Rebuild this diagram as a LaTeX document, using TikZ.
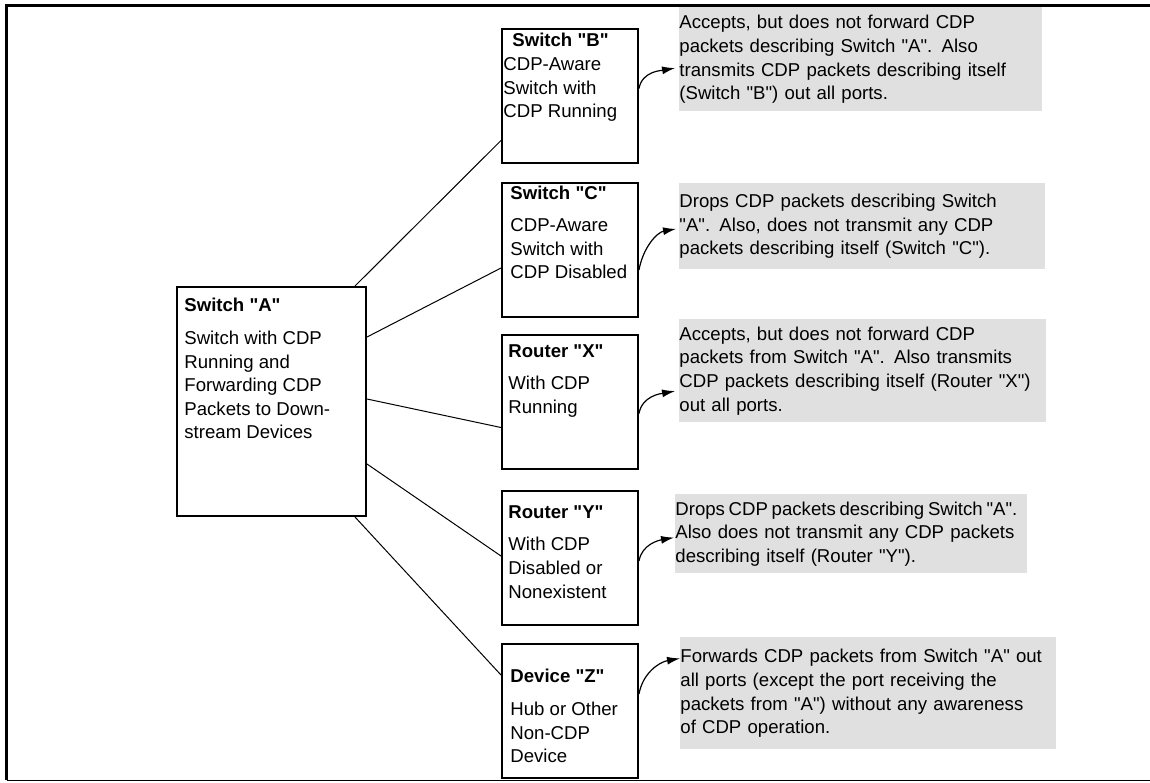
\documentclass[tikz,border=0pt]{standalone}
\usepackage{fontspec}
\setmainfont{Liberation Sans}[Ligatures=TeXOff]
\usetikzlibrary{arrows.meta,positioning}
\definecolor{notegray}{RGB}{224,224,224}

\begin{document}
\begin{tikzpicture}[x=0.5pt, y=-0.5pt,
    every node/.style={font=\fontsize{9.3pt}{11.8pt}\selectfont, inner sep=0pt},
    devbox/.style={draw, line width=1pt, minimum width=68pt, minimum height=67pt, anchor=north west},
    devtext/.style={align=left, anchor=north west},
    note/.style={fill=notegray, align=left, anchor=north west},
    link/.style={line width=0.5pt},
    feed/.style={line width=0.6pt, -{Latex[length=6.5pt,width=4pt]}}]
  \useasboundingbox (0,0) rectangle (1150,782);
  % Frame
  \draw[line width=1.3pt] (1150,5.5) -- (6.5,5.5) -- (6.5,780);
  \draw[line width=0.5pt] (6.5,780) -- (1150,780);

  % Switch A
  \node[devbox, minimum width=94.5pt, minimum height=114.5pt] (swa) at (176,286) {};
  \node[devtext] (swatext) at (184,298) {\textbf{Switch "A"}\\[4.5pt]Switch with CDP\\Running and\\Forwarding CDP\\Packets to Down-\\stream Devices};

  % Downstream devices
  \node[devbox] (swb) at (501,28) {};
  \node[devtext] (swbtext) at (503,33) {\hspace*{4.5pt}\textbf{Switch "B"}\\CDP-Aware\\Switch with\\CDP Running};
  \node[devbox] (swc) at (501,182) {};
  \node[devtext] (swctext) at (510,186) {\textbf{Switch "C"}\\[4pt]CDP-Aware\\Switch with\\CDP Disabled};
  \node[devbox] (rtx) at (501,334) {};
  \node[devtext] (rtxtext) at (508,344) {\textbf{Router "X"}\\[4.5pt]With CDP\\Running};
  \node[devbox] (rty) at (501,490) {};
  \node[devtext] (rtytext) at (508,505) {\textbf{Router "Y"}\\[4.5pt]With CDP\\Disabled or\\Nonexistent};
  \node[devbox] (devz) at (501,643) {};
  \node[devtext] (devztext) at (510,669) {\textbf{Device "Z"}\\[4.5pt]Hub or Other\\Non-CDP\\Device};

  % Links from Switch A
  \draw[link] ([xshift=-6pt]swa.north east) -- ([yshift=-22.25pt]swb.west);
  \draw[link] ([yshift=32.25pt]swa.east) -- ([yshift=-9pt]swc.west);
  \draw[link] ([yshift=1.25pt]swa.east) -- ([yshift=-12.75pt]rtx.west);
  \draw[link] ([yshift=-31.25pt]swa.east) -- ([yshift=1pt]rty.west);
  \draw[link] ([xshift=-6pt]swa.south east) -- ([yshift=18pt]devz.west);

  % Notes
  \node[note, text width=181.5pt, minimum height=52pt] (noteb) at (679,7) {Accepts, but does not forward CDP\\packets describing Switch "A".  Also\\transmits CDP packets describing itself\\(Switch "B") out all ports.};
  \node[note, text width=183pt, minimum height=43pt] (notec) at (679,183) {Drops CDP packets describing Switch\\"A". Also, does not transmit any CDP\\packets describing itself (Switch "C").};
  \node[note, text width=183.5pt, minimum height=51.5pt] (notex) at (679,319) {Accepts, but does not forward CDP\\packets from Switch "A".  Also transmits\\CDP packets describing itself (Router "X")\\out all ports.};
  \node[note, text width=176pt, minimum height=39.5pt] (notey) at (675,494) {\mbox{\spaceskip=0.2em Drops CDP packets describing Switch "A".}\\Also does not transmit any CDP packets\\describing itself (Router "Y").};
  \node[note, text width=188pt, minimum height=56pt] (notez) at (680,637) {Forwards CDP packets from Switch "A" out\\all ports (except the port receiving the\\packets from "A")  without any awareness\\of CDP operation.};

  % Arrows to notes
  \draw[feed, shorten >=2pt] ([yshift=3.75pt]swb.east) to[out=80,in=190] ([yshift=-4pt]noteb.west);
  \draw[feed, shorten >=1.5pt] ([yshift=-10pt]swc.east) to[out=80,in=190] ([yshift=-1pt]notec.west);
  \draw[feed, shorten >=2pt] ([yshift=-5.75pt]rtx.east) to[out=80,in=190] ([yshift=-9.75pt]notex.west);
  \draw[feed, shorten >=0.5pt] ([yshift=-1.5pt]rty.east) to[out=80,in=190] ([yshift=-1.75pt]notey.west);
  \draw[feed] ([yshift=8.5pt]devz.east) to[out=80,in=190] ([yshift=17.5pt]notez.west);
\end{tikzpicture}
\end{document}
